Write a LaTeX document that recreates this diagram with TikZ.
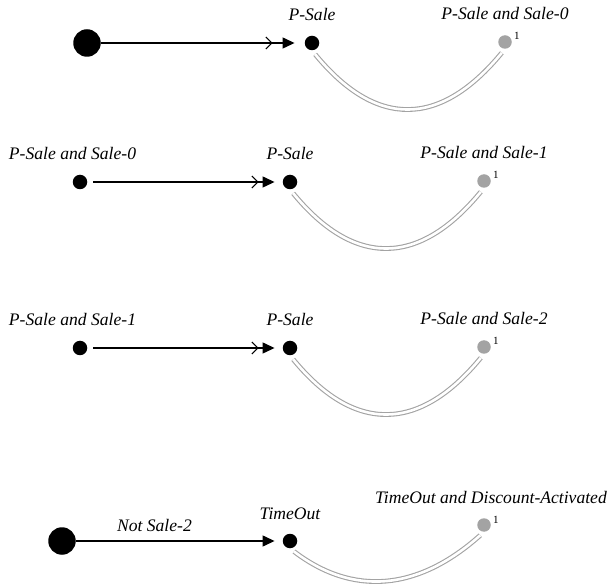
\documentclass[tikz,border=0pt]{standalone}
\usepackage{fontspec}
\setmainfont{Liberation Serif}
\usetikzlibrary{arrows.meta, decorations.markings}
\definecolor{stategray}{RGB}{163,163,163}
\newcommand{\statefont}{\fontsize{17.6}{20}\selectfont\itshape}

\begin{document}
\begin{tikzpicture}[x=1pt, y=-1pt,
    startbig/.style={circle, fill=black, inner sep=0pt, minimum size=27.5pt},
    startdot/.style={circle, fill=black, inner sep=0pt, minimum size=14.5pt},
    resdot/.style={circle, fill=stategray, inner sep=0pt, minimum size=13.5pt},
    lbl/.style={anchor=base, font=\statefont, inner sep=0pt},
    countlbl/.style={anchor=base west, font=\fontsize{11}{12}\selectfont, inner sep=0pt},
    trans/.style={line width=1.3pt, shorten >=8pt, -{Triangle[length=12pt,width=11pt]}},
    seqarrow/.style={trans, postaction={decorate},
      decoration={markings, mark=at position -#1 with {\arrow{Straight Barb[length=6pt,width=12pt,line width=1pt]}}}},
    seqarrow/.default=24pt,
    link/.style={draw=stategray, double=white, line width=1.1pt, double distance=2.6pt, shorten <=5pt, shorten >=5pt},
  ]
  \useasboundingbox (0,0) rectangle (614,588);

  % row 1
  \node[startbig] (s1) at (87,43) {};
  \node[startdot] (p1) at (312,43) {};
  \node[resdot]   (g1) at (505,42) {};
  \node[lbl] (p1lbl) at ([yshift=22pt]p1.center) {P-Sale};
  \node[lbl] (g1lbl) at ([yshift=22pt]g1.center) {P-Sale and Sale-0};
  \node[countlbl] (g1cnt) at ([shift={(2pt,2pt)}]g1.east) {1};
  \draw[seqarrow=32pt, shorten >=10pt] (s1) -- (p1);
  \draw[link] (p1.south) .. controls +(64,78) and +(-65,79) .. (g1.south);

  % row 2
  \node[startdot] (s2) at (80,182) {};
  \node[startdot] (p2) at (290,182) {};
  \node[resdot]   (g2) at (484,181) {};
  \node[lbl] (s2lbl) at ([shift={(-7.5pt,22pt)}]s2.center) {P-Sale and Sale-0};
  \node[lbl] (p2lbl) at ([yshift=22pt]p2.center) {P-Sale};
  \node[lbl] (g2lbl) at ([yshift=22pt]g2.center) {P-Sale and Sale-1};
  \node[countlbl] (g2cnt) at ([shift={(2pt,2pt)}]g2.east) {1};
  \draw[seqarrow, shorten <=6pt] (s2) -- (p2);
  \draw[link] (p2.south) .. controls +(64,78) and +(-65,79) .. (g2.south);

  % row 3
  \node[startdot] (s3) at (80,348) {};
  \node[startdot] (p3) at (290,348) {};
  \node[resdot]   (g3) at (484,347) {};
  \node[lbl] (s3lbl) at ([shift={(-7.5pt,22pt)}]s3.center) {P-Sale and Sale-1};
  \node[lbl] (p3lbl) at ([yshift=22pt]p3.center) {P-Sale};
  \node[lbl] (g3lbl) at ([yshift=22pt]g3.center) {P-Sale and Sale-2};
  \node[countlbl] (g3cnt) at ([shift={(2pt,2pt)}]g3.east) {1};
  \draw[seqarrow, shorten <=6pt] (s3) -- (p3);
  \draw[link] (p3.south) .. controls +(64,78) and +(-65,79) .. (g3.south);

  % row 4
  \node[startbig] (s4) at (62,541) {};
  \node[startdot] (p4) at (290,541) {};
  \node[resdot]   (g4) at (484,525) {};
  \node[lbl] (p4lbl) at ([yshift=22pt]p4.center) {TimeOut};
  \node[lbl] (g4lbl) at ([shift={(7pt,22pt)}]g4.center) {TimeOut and Discount-Activated};
  \node[countlbl] (g4cnt) at ([shift={(2pt,2pt)}]g4.east) {1};
  \draw[trans] (s4) -- node[lbl, pos=0.38, yshift=10pt] (notlbl) {Not Sale-2} (p4);
  \draw[link] (p4.south) .. controls +(63,48) and +(-66,59) .. (g4.south);
\end{tikzpicture}
\end{document}
